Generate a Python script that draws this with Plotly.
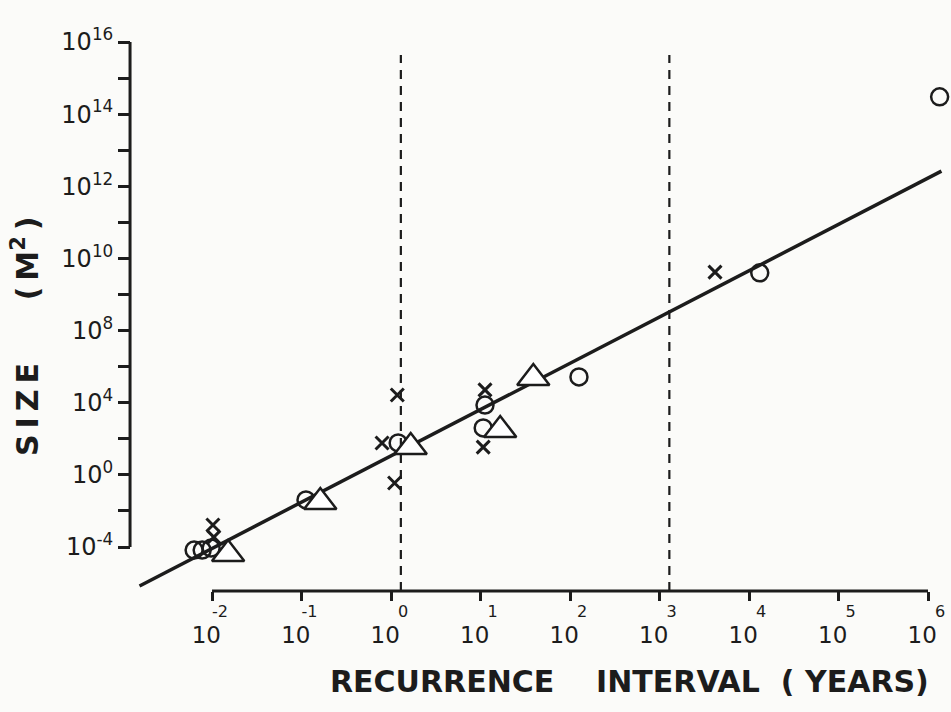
import plotly.graph_objects as go

# ---- data (log10 of recurrence interval in years, log10 of size in m^2) ----
circle_log_interval = [-2.20, -2.11, -2.01, -0.95, 0.08, 1.05, 1.03, 2.10, 4.12, 6.13]
circle_log_size = [-4.17, -4.17, -4.06, -1.39, 1.77, 3.87, 2.60, 5.43, 9.60, 14.48]

triangle_log_interval = [-1.82, -0.79, 0.22, 1.22, 1.59]
triangle_log_size = [-4.39, -1.51, 1.54, 2.49, 5.37]

cross_log_interval = [-1.99, -1.98, 0.07, -0.10, 0.04, 1.05, 1.03, 3.62]
cross_log_size = [-2.78, -3.45, 4.43, 1.77, -0.45, 4.71, 1.54, 9.62]

fit_log_interval = [-2.81, 6.15]
fit_log_size = [-6.16, 12.42]

dashed_log_interval = [0.11, 3.11]
dashed_top_log_size = 15.64

x_tick_exponents = [-2, -1, 0, 1, 2, 3, 4, 5, 6]
# printed y axis: 15 equally spaced ticks; 2 decades per tick below 10^8, 1 decade above
y_tick_exponents = [-4, -2, 0, 2, 4, 6, 8, 9, 10, 11, 12, 13, 14, 15, 16]
y_labelled_exponents = [-4, 0, 4, 8, 10, 12, 14, 16]

INK = "#1c1c1c"
BG = "#fbfbf9"
FONT = "DejaVu Sans"


def axis_pos(v):
    """Position on the printed (non-uniform) size axis, in tick units."""
    return (v + 4) / 2 if v <= 8 else v - 2


def to_years(lx):
    return [10 ** v for v in lx]


# geometry of the page (axis ranges chosen so the frame fills the page)
X_RANGE = [-4.369, 6.257]
Y_RANGE = [-4.5745, 15.165]
Y_AXIS_AT = -2.916      # log10 interval where the size axis stands
X_AXIS_AT = -1.22       # tick-unit position of the interval axis

fig = go.Figure()

# fitted line
fig.add_trace(go.Scatter(
    x=to_years(fit_log_interval), y=[axis_pos(v) for v in fit_log_size],
    mode="lines", line=dict(color=INK, width=3.5), hoverinfo="skip"))

# dashed verticals
for lx in dashed_log_interval:
    fig.add_trace(go.Scatter(
        x=[10 ** lx, 10 ** lx], y=[X_AXIS_AT, axis_pos(dashed_top_log_size)],
        mode="lines", line=dict(color=INK, width=2.2, dash="9px,7px"), hoverinfo="skip"))

# axis lines (only over the labelled span, as printed)
fig.add_trace(go.Scatter(
    x=[10 ** Y_AXIS_AT, 10 ** Y_AXIS_AT],
    y=[axis_pos(y_tick_exponents[0]), axis_pos(y_tick_exponents[-1])],
    mode="lines", line=dict(color=INK, width=3), hoverinfo="skip"))
fig.add_trace(go.Scatter(
    x=[10 ** x_tick_exponents[0], 10 ** x_tick_exponents[-1]], y=[X_AXIS_AT, X_AXIS_AT],
    mode="lines", line=dict(color=INK, width=3), hoverinfo="skip"))

# markers
fig.add_trace(go.Scatter(
    x=to_years(circle_log_interval), y=[axis_pos(v) for v in circle_log_size],
    mode="markers", marker=dict(symbol="circle-open", size=17, color=INK, line=dict(width=2.5))))
fig.add_trace(go.Scatter(
    x=to_years(triangle_log_interval), y=[axis_pos(v) for v in triangle_log_size],
    mode="markers", marker=dict(symbol="triangle-up", size=28, color="white",
                                line=dict(color=INK, width=2.5))))
fig.add_trace(go.Scatter(
    x=to_years(cross_log_interval), y=[axis_pos(v) for v in cross_log_size],
    mode="markers", marker=dict(symbol="x-thin-open", size=13, color=INK, line=dict(width=3))))


def pad_for(e):
    return "\u2002" * (2 if len(str(e)) > 1 else 3)


x_ticktext = [f"<sub>{pad_for(e)}{e}</sub><br>10\u2002" for e in x_tick_exponents]
y_tickvals = [axis_pos(v) for v in y_tick_exponents]
y_ticktext = [f"10<sup>{v}</sup>" if v in y_labelled_exponents else "" for v in y_tick_exponents]

x_axis_paper = (X_AXIS_AT - Y_RANGE[0]) / (Y_RANGE[1] - Y_RANGE[0])
y_axis_paper = (Y_AXIS_AT - X_RANGE[0]) / (X_RANGE[1] - X_RANGE[0])

fig.update_layout(
    width=951, height=712,
    margin=dict(l=0, r=0, t=0, b=0),
    paper_bgcolor=BG, plot_bgcolor=BG,
    showlegend=False,
    font=dict(family=FONT, color=INK),
    xaxis=dict(
        type="log", range=X_RANGE, domain=[0, 1],
        anchor="free", position=x_axis_paper,
        showgrid=False, zeroline=False, showline=False,
        tickmode="array", tickvals=[10 ** e for e in x_tick_exponents], ticktext=x_ticktext,
        ticks="outside", ticklen=9, tickwidth=3, tickcolor=INK,
        tickfont=dict(family=FONT, size=23, color=INK),
        ticklabelstandoff=-16,
        automargin=False, fixedrange=True,
    ),
    yaxis=dict(
        range=Y_RANGE, domain=[0, 1],
        anchor="free", position=y_axis_paper,
        showgrid=False, zeroline=False, showline=False,
        tickmode="array", tickvals=y_tickvals, ticktext=y_ticktext,
        ticks="outside", ticklen=12, tickwidth=3, tickcolor=INK,
        tickfont=dict(family=FONT, size=24, color=INK),
        automargin=False, fixedrange=True,
    ),
    annotations=[
        dict(xref="paper", yref="paper", x=25 / 951, y=(712 - 336) / 712,
             text="S\u2009I\u2009Z\u2009E" + "\u00a0" * 6 + "(\u2009M<sup>2</sup>\u2009)",
             textangle=-90, showarrow=False, xanchor="center", yanchor="middle",
             font=dict(family=FONT, size=30, color=INK, weight="bold")),
        dict(xref="paper", yref="paper", x=629 / 951, y=(712 - 681) / 712,
             text="RECURRENCE" + "\u00a0" * 4 + "INTERVAL" + "\u00a0" * 2 + "(\u00a0YEARS)",
             showarrow=False, xanchor="center", yanchor="middle",
             font=dict(family=FONT, size=30, color=INK, weight="bold")),
    ],
)

fig.write_html(
    "out.html",
    config={"displayModeBar": False, "staticPlot": True},
    post_script=f"document.body.style.margin='0';document.body.style.background='{BG}';",
)
